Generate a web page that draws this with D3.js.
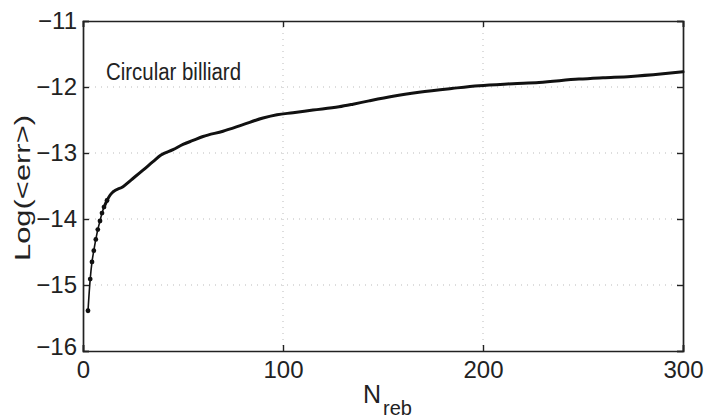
<!DOCTYPE html>
<html>
<head>
<meta charset="utf-8">
<script src="https://cdn.jsdelivr.net/npm/d3@7"></script>
<style>
  html, body { margin: 0; padding: 0; background: #fff; }
  svg { display: block; }
</style>
</head>
<body>
<script>
// ---- data ----
const nReb = [2.5, 3.6, 4.5, 5.4, 6.4, 7.4, 8.5, 9.5, 10.5, 12, 13.5, 15, 20, 24, 30, 35, 39, 45, 50, 55, 60, 70, 80, 90, 97, 105, 115, 128, 135, 143, 155, 168, 185, 198, 215, 228, 248, 260, 274, 290, 300];
const logErr = [-15.39, -14.91, -14.65, -14.48, -14.31, -14.16, -14.03, -13.91, -13.82, -13.72, -13.64, -13.59, -13.51, -13.41, -13.26, -13.13, -13.03, -12.95, -12.87, -12.81, -12.75, -12.67, -12.57, -12.47, -12.42, -12.39, -12.35, -12.30, -12.26, -12.21, -12.14, -12.08, -12.02, -11.98, -11.95, -11.93, -11.88, -11.86, -11.84, -11.80, -11.77];
const xTicks = [0, 100, 200, 300];
const yTicks = [-16, -15, -14, -13, -12, -11];
const labelText = "Circular billiard";
const xLabel = "N";
const xLabelSub = "reb";
const yLabel = "Log(<err>)";

const W = 705, H = 420;
const margin = { left: 83, top: 21, right: 22, bottom: 69 };
const iw = W - margin.left - margin.right;
const ih = H - margin.top - margin.bottom;
const FONT = "'Liberation Sans', Arial, sans-serif";

const svg = d3.select("body").append("svg").attr("width", W).attr("height", H);
const g = svg.append("g").attr("transform", `translate(${margin.left},${margin.top})`);

const x = d3.scaleLinear().domain([0, 300]).range([0, iw]);
const y = d3.scaleLinear().domain([-16, -11]).range([ih, 0]);

// grid (dotted, faint)
g.append("g").selectAll("line").data(yTicks.filter(t => t > -16 && t < -11)).join("line")
  .attr("x1", 0).attr("x2", iw).attr("y1", d => y(d)).attr("y2", d => y(d))
  .attr("stroke", "#bbb").attr("stroke-width", 1).attr("stroke-dasharray", "1,5");
g.append("g").selectAll("line").data(xTicks.filter(t => t > 0 && t < 300)).join("line")
  .attr("y1", 0).attr("y2", ih).attr("x1", d => x(d)).attr("x2", d => x(d))
  .attr("stroke", "#bbb").attr("stroke-width", 1).attr("stroke-dasharray", "1,5");

// axes with inward ticks
const fmt = d => d < 0 ? "\u2212" + Math.abs(d) : String(d);
const axB = g.append("g").attr("transform", `translate(0,${ih})`)
  .call(d3.axisBottom(x).tickValues(xTicks).tickSize(-6).tickPadding(10).tickFormat(fmt));
const axL = g.append("g")
  .call(d3.axisLeft(y).tickValues(yTicks).tickSize(-6).tickPadding(6).tickFormat(fmt));
const axT = g.append("g")
  .call(d3.axisTop(x).tickValues(xTicks).tickSize(-6).tickFormat(""));
const axR = g.append("g").attr("transform", `translate(${iw},0)`)
  .call(d3.axisRight(y).tickValues(yTicks).tickSize(-6).tickFormat(""));
[axB, axL, axT, axR].forEach(a => {
  a.select(".domain").attr("stroke", "#222").attr("stroke-width", 1.7);
  a.selectAll(".tick line").attr("stroke", "#222").attr("stroke-width", 1.4);
  a.selectAll("text").attr("font-family", FONT).attr("font-size", 24).attr("fill", "#222");
});
axB.selectAll("text").attr("dy", "0.71em");
axL.selectAll(".tick").filter(d => d === -16).select("text").attr("dy", "0.15em");

// series: thin dotted-marker start, thick dense part afterwards
const pts = nReb.map((n, i) => ({ n, v: logErr[i] }));
const line = d3.line().curve(d3.curveMonotoneX).x(d => x(d.n)).y(d => y(d.v));
g.append("path").datum(pts.filter(d => d.n <= 12))
  .attr("fill", "none").attr("stroke", "#111").attr("stroke-width", 1.6)
  .attr("d", line);
g.append("path").datum(pts.filter(d => d.n >= 10.5))
  .attr("fill", "none").attr("stroke", "#111").attr("stroke-width", 3)
  .attr("stroke-linejoin", "round").attr("stroke-linecap", "round")
  .attr("d", line);
g.append("g").selectAll("circle").data(pts.filter(d => d.n <= 12)).join("circle")
  .attr("cx", d => x(d.n)).attr("cy", d => y(d.v)).attr("r", 2.4).attr("fill", "#111");

// in-plot label
g.append("text").attr("x", 23).attr("y", 59)
  .attr("font-family", FONT).attr("font-size", 23).attr("fill", "#222")
  .attr("textLength", 135).attr("lengthAdjust", "spacingAndGlyphs")
  .text(labelText);

// x label with subscript
const xl = svg.append("text").attr("x", 363).attr("y", 403)
  .attr("font-family", FONT).attr("font-size", 25).attr("fill", "#222");
xl.append("tspan").text(xLabel);
xl.append("tspan").attr("font-size", 20).attr("dx", 2).attr("dy", 12).text(xLabelSub);

// y label (tall, stretched like the reference)
svg.append("text")
  .attr("transform", `translate(30,188) rotate(-90)`)
  .attr("text-anchor", "middle")
  .attr("font-family", FONT).attr("font-size", 22).attr("fill", "#222")
  .attr("textLength", 146).attr("lengthAdjust", "spacingAndGlyphs")
  .text(yLabel);
</script>
</body>
</html>
